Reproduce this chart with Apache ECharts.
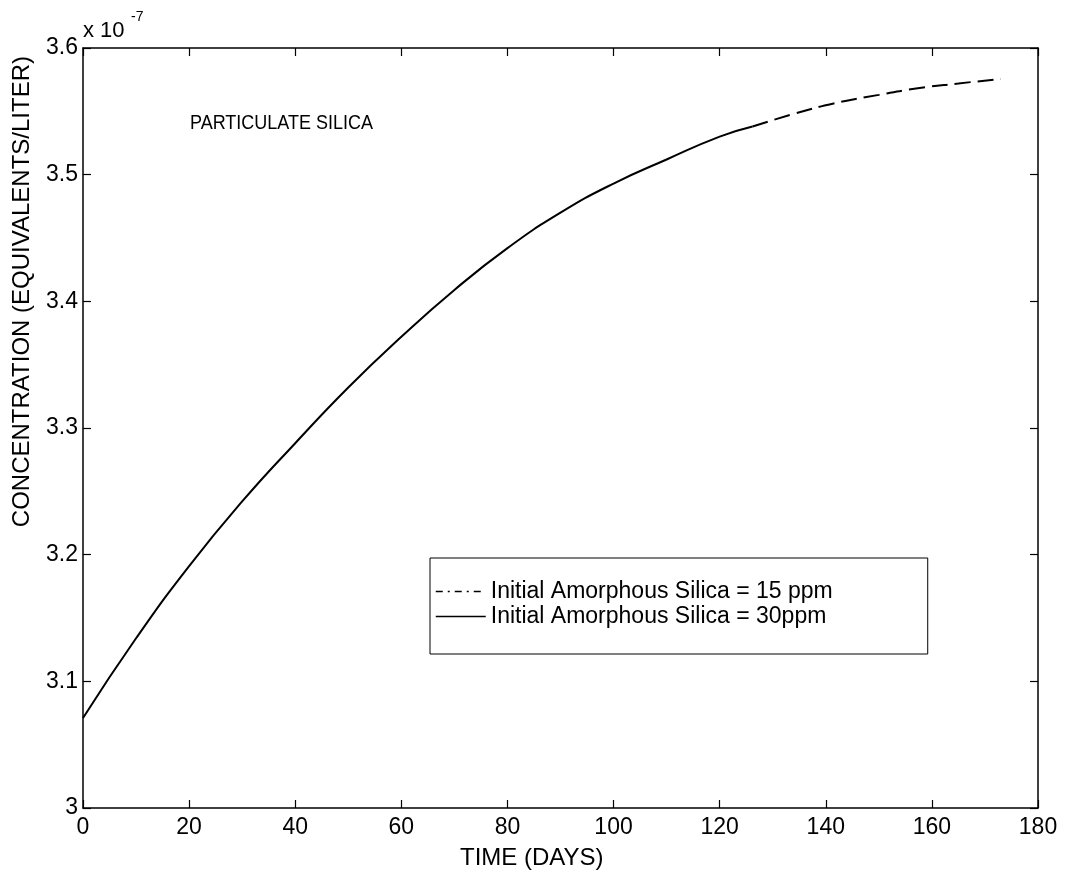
<!DOCTYPE html>
<html>
<head>
<meta charset="utf-8">
<script src="https://cdn.jsdelivr.net/npm/echarts@6/dist/echarts.min.js"></script>
<style>
html,body{margin:0;padding:0;background:#fff;}
#c{width:1066px;height:873px;}
</style>
</head>
<body>
<div id="c"></div>
<script>
// Data (concentration in units of 1e-7 equivalents/liter)
const days30 = [0, 10, 20, 30, 40, 50, 60, 70, 80, 90, 100, 110, 120, 126.2];
const conc30 = [3.071, 3.134, 3.191, 3.242, 3.288, 3.332, 3.372, 3.409, 3.442, 3.470, 3.493, 3.512, 3.530, 3.538];
const days15 = [126.2, 134, 141.3, 150, 157, 165, 173];
const conc15 = [3.538, 3.548, 3.556, 3.563, 3.568, 3.572, 3.5755];
const seriesNames = ['Initial Amorphous Silica = 15 ppm', 'Initial Amorphous Silica = 30ppm'];
const xTicks = {min: 0, max: 180, step: 20};
const yTicks = {min: 3, max: 3.6, step: 0.1};
const xTitle = 'TIME (DAYS)';
const yTitle = 'CONCENTRATION (EQUIVALENTS/LITER)';
const annotation = 'PARTICULATE SILICA';

const FONT = 'Liberation Sans, Arial, Helvetica, sans-serif';
const chart = echarts.init(document.getElementById('c'), null, {renderer: 'canvas'});

const axisCommon = {
  axisLine: {show: true, onZero: false, lineStyle: {color: '#000', width: 1.5}},
  axisTick: {show: true, inside: true, length: 8, lineStyle: {color: '#000', width: 1.2}},
  splitLine: {show: false}
};

chart.setOption({
  animation: false,
  backgroundColor: '#fff',
  grid: {left: 83, right: 28, top: 48, bottom: 65, containLabel: false},
  xAxis: [
    Object.assign({}, axisCommon, {
      type: 'value', min: xTicks.min, max: xTicks.max, interval: xTicks.step, position: 'bottom',
      axisLabel: {color: '#000', fontFamily: FONT, fontSize: 23, margin: 8}
    }),
    Object.assign({}, axisCommon, {
      type: 'value', min: xTicks.min, max: xTicks.max, interval: xTicks.step, position: 'top',
      axisLabel: {show: false}
    })
  ],
  yAxis: [
    Object.assign({}, axisCommon, {
      type: 'value', min: yTicks.min, max: yTicks.max, interval: yTicks.step, position: 'left',
      axisLabel: {color: '#000', fontFamily: FONT, fontSize: 23, margin: 5,
        formatter: v => String(Math.round(v * 10) / 10)}
    }),
    Object.assign({}, axisCommon, {
      type: 'value', min: yTicks.min, max: yTicks.max, interval: yTicks.step, position: 'right',
      axisLabel: {show: false}
    })
  ],
  legend: {
    left: 430, top: 558,
    orient: 'vertical',
    backgroundColor: '#fff',
    borderColor: '#000', borderWidth: 1,
    padding: [21, 95, 25, 5],
    itemGap: 0,
    itemWidth: 50, itemHeight: 14,
    itemStyle: {opacity: 0},
    textStyle: {color: '#000', fontFamily: FONT, fontSize: 23, lineHeight: 25},
    data: [
      {name: seriesNames[0], lineStyle: {type: [7, 5, 2, 5], width: 1.5, color: '#000'}},
      {name: seriesNames[1], lineStyle: {type: 'solid', width: 1.5, color: '#000'}}
    ]
  },
  graphic: [
    {type: 'text', x: 190, y: 123, scaleY: 1.15,
      style: {text: annotation, fill: '#000', font: '18px ' + FONT, verticalAlign: 'middle'}},
    {type: 'text', x: 83, y: 31,
      style: {text: 'x 10', fill: '#000', font: '22px ' + FONT, verticalAlign: 'middle'}},
    {type: 'text', x: 131, y: 17,
      style: {text: '-7', fill: '#000', font: '14px ' + FONT, verticalAlign: 'middle'}},
    {type: 'text', x: 460, y: 858,
      style: {text: xTitle, fill: '#000', font: '24px ' + FONT, verticalAlign: 'middle'}},
    {type: 'text', x: 22, y: 56, rotation: Math.PI / 2,
      style: {text: yTitle, fill: '#000', font: '24px ' + FONT, align: 'right', verticalAlign: 'middle'}}
  ],
  series: [
    {
      name: seriesNames[0], type: 'line', xAxisIndex: 0, yAxisIndex: 0,
      data: days15.map((d, i) => [d, conc15[i]]),
      smooth: true, symbol: 'none', showSymbol: false,
      lineStyle: {color: '#000', width: 2, type: [16, 7]}
    },
    {
      name: seriesNames[1], type: 'line', xAxisIndex: 0, yAxisIndex: 0,
      data: days30.map((d, i) => [d, conc30[i]]),
      smooth: true, symbol: 'none', showSymbol: false,
      lineStyle: {color: '#000', width: 2, type: 'solid'}
    }
  ]
});
</script>
</body>
</html>
